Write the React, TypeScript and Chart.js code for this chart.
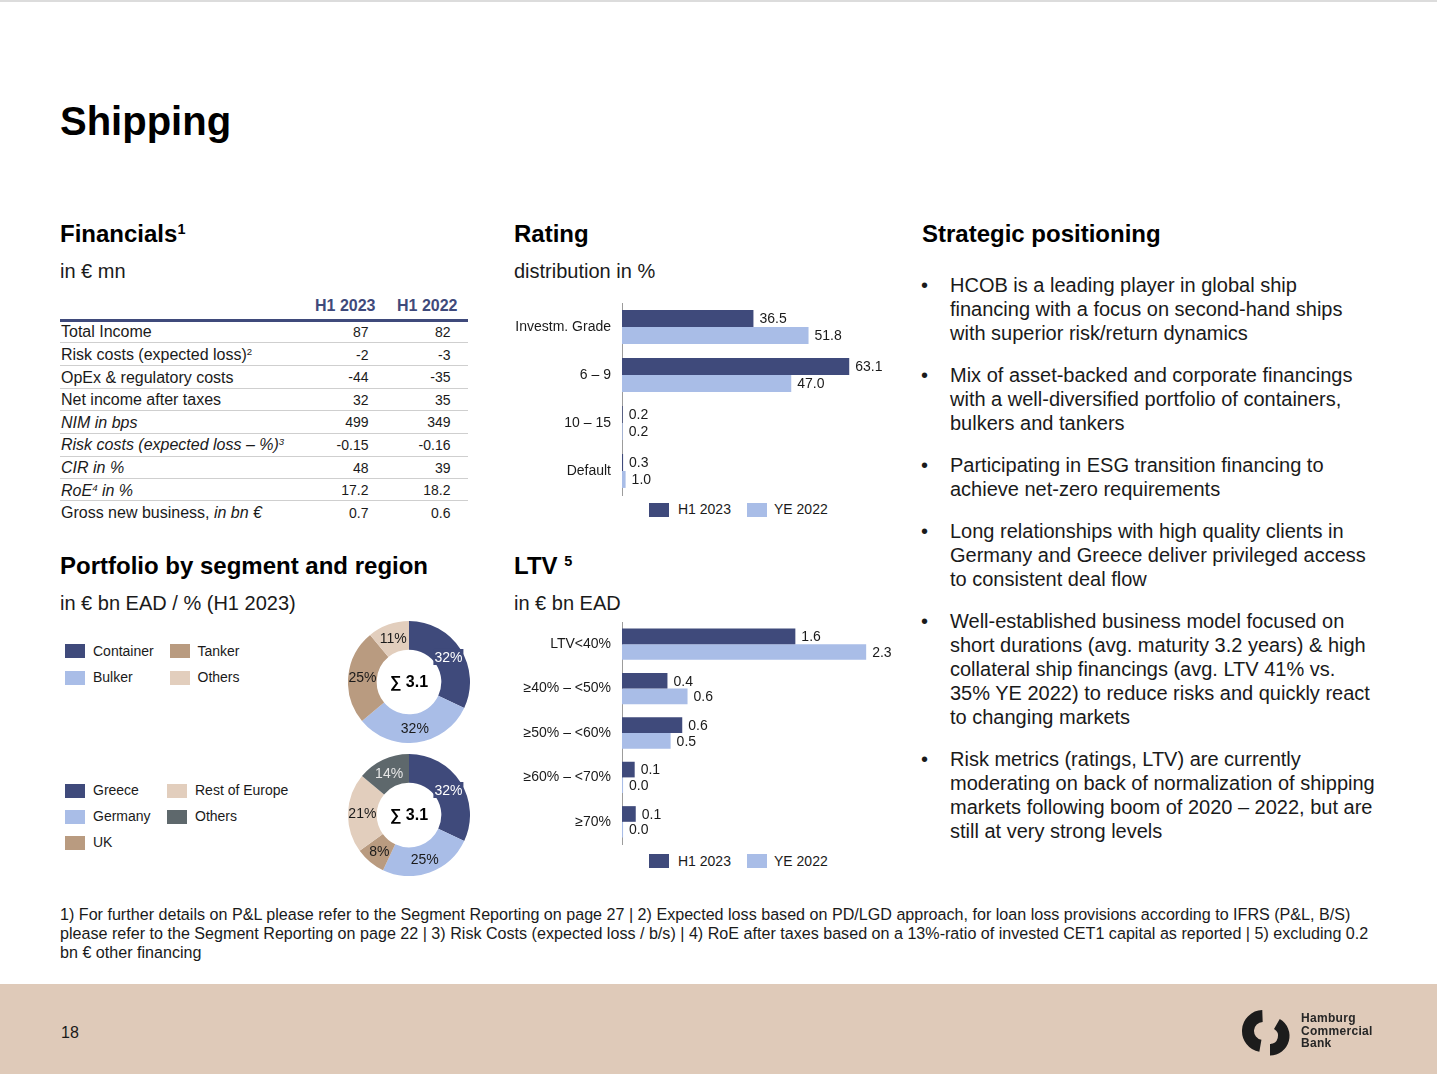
import React, { useEffect, useRef } from 'react';
import { Chart, registerables } from 'chart.js';

Chart.register(...registerables);

const FONT = 'Arial, "Liberation Sans", Helvetica, sans-serif';
const NAVY = '#3f4a7b';
const LIGHT_BLUE = '#a9bde7';
const TAN = '#b99b80';
const BEIGE = '#e2cebd';
const GRAY = '#5e686c';
const TEXT = '#1a1a1a';
const WHITE = '#ffffff';

// ---------- data ----------
const seriesLabels = ['H1 2023', 'YE 2022'];

const ratingCategories = ['Investm. Grade', '6 – 9', '10 – 15', 'Default'];
const ratingH1 = [36.5, 63.1, 0.2, 0.3];
const ratingYE = [51.8, 47.0, 0.2, 1.0];

const ltvCategories = ['LTV<40%', '≥40% – <50%', '≥50% – <60%', '≥60% – <70%', '≥70%'];
const ltvH1 = [1.64, 0.43, 0.57, 0.12, 0.13];
const ltvYE = [2.31, 0.62, 0.46, 0.01, 0.01];

const segmentLabels = ['Container', 'Bulker', 'Tanker', 'Others'];
const segmentValues = [32, 32, 25, 11];
const regionLabels = ['Greece', 'Germany', 'UK', 'Rest of Europe', 'Others'];
const regionValues = [32, 25, 8, 21, 14];
const portfolioTotal = 3.1;

const tableColumns = ['H1 2023', 'H1 2022'];
const tableH1_2023 = ['87', '-2', '-44', '32', '499', '-0.15', '48', '17.2', '0.7'];
const tableH1_2022 = ['82', '-3', '-35', '35', '349', '-0.16', '39', '18.2', '0.6'];

// ---------- plugins ----------
const valueLabelPlugin = {
  id: 'valueLabels',
  afterDatasetsDraw(chart: any, _args: any, opts: any) {
    const ctx = chart.ctx;
    ctx.save();
    ctx.font = `14px ${FONT}`;
    ctx.fillStyle = TEXT;
    ctx.textBaseline = 'middle';
    ctx.textAlign = 'left';
    chart.data.datasets.forEach((ds: any, i: number) => {
      const meta = chart.getDatasetMeta(i);
      meta.data.forEach((bar: any, j: number) => {
        const v = ds.data[j] as number;
        ctx.fillText(v.toFixed(opts.decimals ?? 1), bar.x + 6, bar.y + 1);
      });
    });
    ctx.restore();
  },
};

const donutLabelPlugin = {
  id: 'donutLabels',
  afterDatasetsDraw(chart: any, _args: any, opts: any) {
    const ctx = chart.ctx;
    const ds = chart.data.datasets[0];
    const meta = chart.getDatasetMeta(0);
    ctx.save();
    ctx.font = `14px ${FONT}`;
    ctx.textBaseline = 'middle';
    ctx.textAlign = 'center';
    let cx = 0;
    let cy = 0;
    meta.data.forEach((arc: any, i: number) => {
      const p = arc.getProps(['x', 'y', 'startAngle', 'endAngle', 'innerRadius', 'outerRadius'], true);
      cx = p.x;
      cy = p.y;
      const mid = (p.startAngle + p.endAngle) / 2;
      const r = (p.innerRadius + p.outerRadius) / 2;
      const x = p.x + Math.cos(mid) * r;
      const y = p.y + Math.sin(mid) * r;
      const txt = `${ds.data[i]}%`;
      const color = opts.labelColors[i];
      if (color === WHITE) {
        const w = ctx.measureText(txt).width;
        ctx.fillStyle = ds.backgroundColor[i];
        ctx.fillRect(x - w / 2 - 1, y - 8, w + 2, 16);
      }
      ctx.fillStyle = color;
      ctx.fillText(txt, x, y + 1);
    });
    ctx.font = `bold 16px ${FONT}`;
    ctx.fillStyle = '#000';
    ctx.fillText(`∑ ${opts.total.toFixed(1)}`, cx, cy + 1);
    ctx.restore();
  },
};

// ---------- chart components ----------
function HBar(props: {
  categories: string[];
  h1: number[];
  ye: number[];
  max: number;
  left: number;
  top: number;
  width: number;
  height: number;
  padTop: number;
  padBottom: number;
}) {
  const ref = useRef<HTMLCanvasElement>(null);
  useEffect(() => {
    const chart = new Chart(ref.current as HTMLCanvasElement, {
      type: 'bar',
      data: {
        labels: props.categories,
        datasets: [
          { label: seriesLabels[0], data: props.h1, backgroundColor: NAVY, categoryPercentage: 0.705, barPercentage: 1, borderWidth: 0 },
          { label: seriesLabels[1], data: props.ye, backgroundColor: LIGHT_BLUE, categoryPercentage: 0.705, barPercentage: 1, borderWidth: 0 },
        ],
      },
      options: {
        indexAxis: 'y',
        responsive: false,
        maintainAspectRatio: false,
        animation: false,
        layout: { padding: { top: props.padTop, bottom: props.padBottom, left: 0, right: 0 } },
        plugins: {
          legend: { display: false },
          tooltip: { enabled: false },
          valueLabels: { decimals: 1 },
        } as any,
        scales: {
          x: { display: false, min: 0, max: props.max },
          y: {
            grid: { display: false, drawTicks: false },
            border: { display: true, color: '#9c9c9c', width: 1 },
            ticks: { color: TEXT, font: { family: FONT, size: 14 }, padding: 11, autoSkip: false },
            afterFit: (s: any) => {
              s.width = 117;
              s.paddingTop = 0;
              s.paddingBottom = 0;
            },
          },
        },
      },
      plugins: [valueLabelPlugin],
    });
    return () => chart.destroy();
  }, []);
  return (
    <canvas
      ref={ref}
      width={props.width}
      height={props.height}
      style={{ position: 'absolute', left: props.left, top: props.top, width: props.width, height: props.height }}
    />
  );
}

function Donut(props: {
  labels: string[];
  values: number[];
  colors: string[];
  labelColors: string[];
  cx: number;
  cy: number;
  size: number;
}) {
  const ref = useRef<HTMLCanvasElement>(null);
  useEffect(() => {
    const chart = new Chart(ref.current as HTMLCanvasElement, {
      type: 'doughnut',
      data: {
        labels: props.labels,
        datasets: [{ data: props.values, backgroundColor: props.colors, borderWidth: 0 }],
      },
      options: {
        responsive: false,
        maintainAspectRatio: false,
        animation: false,
        cutout: '53%',
        layout: { padding: 0 },
        plugins: {
          legend: { display: false },
          tooltip: { enabled: false },
          donutLabels: { labelColors: props.labelColors, total: portfolioTotal },
        } as any,
      },
      plugins: [donutLabelPlugin],
    });
    return () => chart.destroy();
  }, []);
  const s = props.size;
  return (
    <canvas
      ref={ref}
      width={s}
      height={s}
      style={{ position: 'absolute', left: props.cx - s / 2, top: props.cy - s / 2, width: s, height: s }}
    />
  );
}

// ---------- text helpers ----------
function T(props: {
  x: number;
  y: number;
  size?: number;
  bold?: boolean;
  italic?: boolean;
  right?: boolean;
  color?: string;
  children: React.ReactNode;
}) {
  const size = props.size ?? 16;
  const style: React.CSSProperties = {
    position: 'absolute',
    top: props.y - size * 0.6,
    fontSize: size,
    lineHeight: `${size * 1.2}px`,
    fontWeight: props.bold ? 700 : 400,
    fontStyle: props.italic ? 'italic' : 'normal',
    whiteSpace: 'nowrap',
    color: props.color ?? TEXT,
  };
  if (props.right) {
    style.right = 1437 - props.x;
    style.textAlign = 'right';
  } else {
    style.left = props.x;
  }
  return <div style={style}>{props.children}</div>;
}

const Sup = ({ children }: { children: React.ReactNode }) => (
  <span style={{ fontSize: '0.6em', position: 'relative', top: '-0.55em' }}>{children}</span>
);

function Swatch({ x, y, color }: { x: number; y: number; color: string }) {
  return <div style={{ position: 'absolute', left: x, top: y, width: 20, height: 14, background: color }} />;
}

function LegendRow({ y }: { y: number }) {
  return (
    <>
      <Swatch x={649} y={y - 7} color={NAVY} />
      <T x={678} y={y} size={14}>{seriesLabels[0]}</T>
      <Swatch x={747} y={y - 7} color={LIGHT_BLUE} />
      <T x={774} y={y} size={14}>{seriesLabels[1]}</T>
    </>
  );
}

function ringPath(cx: number, cy: number, R: number, r: number, a0: number, a1: number) {
  const rad = (a: number) => (a * Math.PI) / 180;
  const p = (rr: number, a: number) => `${cx + rr * Math.cos(rad(a))} ${cy + rr * Math.sin(rad(a))}`;
  const large = a1 - a0 > 180 ? 1 : 0;
  return `M ${p(R, a0)} A ${R} ${R} 0 ${large} 1 ${p(R, a1)} L ${p(r, a1)} A ${r} ${r} 0 ${large} 0 ${p(r, a0)} Z`;
}

const tableLabels: React.ReactNode[] = [
  'Total Income',
  <>Risk costs (expected loss)<Sup>2</Sup></>,
  'OpEx & regulatory costs',
  'Net income after taxes',
  <i>NIM in bps</i>,
  <i>Risk costs (expected loss – %)<Sup>3</Sup></i>,
  <i>CIR in %</i>,
  <i>RoE<Sup>4</Sup> in %</i>,
  <>Gross new business, <i>in bn €</i></>,
];
const rowCenters = [332, 355, 377.5, 400, 422.5, 445, 468, 490.5, 513];
const rowLines = [342.7, 365.3, 388, 410.3, 433.3, 456, 478.3, 500.7];

const bullets: string[][] = [
  ['HCOB is a leading player in global ship', 'financing with a focus on second-hand ships', 'with superior risk/return dynamics'],
  ['Mix of asset-backed and corporate financings', 'with a well-diversified portfolio of containers,', 'bulkers and tankers'],
  ['Participating in ESG transition financing to', 'achieve net-zero requirements'],
  ['Long relationships with high quality clients in', 'Germany and Greece deliver privileged access', 'to consistent deal flow'],
  [
    'Well-established business model focused on',
    'short durations (avg. maturity 3.2 years) & high',
    'collateral ship financings (avg. LTV 41% vs.',
    '35% YE 2022) to reduce risks and quickly react',
    'to changing markets',
  ],
  [
    'Risk metrics (ratings, LTV) are currently',
    'moderating on back of normalization of shipping',
    'markets following boom of 2020 – 2022, but are',
    'still at very strong levels',
  ],
];
const bulletTops = [285, 375, 465, 531, 621, 759];

const footnotes = [
  '1) For further details on P&L please refer to the Segment Reporting on page 27 | 2) Expected loss based on PD/LGD approach, for loan loss provisions according to IFRS (P&L, B/S)',
  'please refer to the Segment Reporting on page 22 | 3) Risk Costs (expected loss / b/s) | 4) RoE after taxes based on a 13%-ratio of invested CET1 capital as reported | 5) excluding 0.2',
  'bn € other financing',
];

export default function App() {
  return (
    <div
      style={{
        position: 'absolute',
        left: 0,
        top: 0,
        width: 1437,
        height: 1074,
        overflow: 'hidden',
        background: '#fff',
        fontFamily: FONT,
        color: TEXT,
      }}
    >
      <div style={{ position: 'absolute', left: 0, top: 0, width: 1437, height: 2, background: '#dcdcdc' }} />

      <T x={60} y={121} size={40} bold color="#000">Shipping</T>

      {/* Financials */}
      <T x={60} y={234} size={24} bold color="#000">Financials<Sup>1</Sup></T>
      <T x={60} y={271} size={20}>in € mn</T>
      <T x={375.5} y={306} size={16} bold right color={NAVY}>{tableColumns[0]}</T>
      <T x={457.5} y={306} size={16} bold right color={NAVY}>{tableColumns[1]}</T>
      <div style={{ position: 'absolute', left: 60, top: 318.5, width: 408, height: 3, background: NAVY }} />
      {rowLines.map((ly, i) => (
        <div key={i} style={{ position: 'absolute', left: 60, top: ly - 0.5, width: 408, height: 1, background: '#cfcfcf' }} />
      ))}
      {tableLabels.map((lab, i) => (
        <React.Fragment key={i}>
          <T x={61} y={rowCenters[i]} size={16}>{lab}</T>
          <T x={368.5} y={rowCenters[i]} size={14} right>{tableH1_2023[i]}</T>
          <T x={450.5} y={rowCenters[i]} size={14} right>{tableH1_2022[i]}</T>
        </React.Fragment>
      ))}

      {/* Rating */}
      <T x={514} y={234} size={24} bold color="#000">Rating</T>
      <T x={514} y={271} size={20}>distribution in %</T>
      <HBar
        categories={ratingCategories}
        h1={ratingH1}
        ye={ratingYE}
        max={77.2}
        left={505}
        top={300}
        width={395}
        height={200}
        padTop={3}
        padBottom={5}
      />
      <LegendRow y={509.5} />

      {/* Portfolio */}
      <T x={60} y={566} size={24} bold color="#000">Portfolio by segment and region</T>
      <T x={60} y={603} size={20}>in € bn EAD / % (H1 2023)</T>
      <Swatch x={65} y={644} color={NAVY} />
      <T x={93} y={651.5} size={14}>{segmentLabels[0]}</T>
      <Swatch x={170} y={644} color={TAN} />
      <T x={197.5} y={651.5} size={14}>{segmentLabels[2]}</T>
      <Swatch x={65} y={670.5} color={LIGHT_BLUE} />
      <T x={93} y={677.5} size={14}>{segmentLabels[1]}</T>
      <Swatch x={170} y={670.5} color={BEIGE} />
      <T x={197.5} y={677.5} size={14}>{segmentLabels[3]}</T>

      <Swatch x={65} y={783.5} color={NAVY} />
      <T x={93} y={790.5} size={14}>{regionLabels[0]}</T>
      <Swatch x={167} y={783.5} color={BEIGE} />
      <T x={195} y={790.5} size={14}>{regionLabels[3]}</T>
      <Swatch x={65} y={809.5} color={LIGHT_BLUE} />
      <T x={93} y={816.5} size={14}>{regionLabels[1]}</T>
      <Swatch x={167} y={809.5} color={GRAY} />
      <T x={195} y={816.5} size={14}>{regionLabels[4]}</T>
      <Swatch x={65} y={835.5} color={TAN} />
      <T x={93} y={842.5} size={14}>{regionLabels[2]}</T>

      <Donut
        labels={segmentLabels}
        values={segmentValues}
        colors={[NAVY, LIGHT_BLUE, TAN, BEIGE]}
        labelColors={[WHITE, TEXT, TEXT, TEXT]}
        cx={409}
        cy={682}
        size={122}
      />
      <Donut
        labels={regionLabels}
        values={regionValues}
        colors={[NAVY, LIGHT_BLUE, TAN, BEIGE, GRAY]}
        labelColors={[WHITE, TEXT, TEXT, TEXT, '#e6e6e6']}
        cx={409}
        cy={815}
        size={122}
      />

      {/* LTV */}
      <T x={514} y={566} size={24} bold color="#000">LTV <Sup>5</Sup></T>
      <T x={514} y={603} size={20}>in € bn EAD</T>
      <HBar
        categories={ltvCategories}
        h1={ltvH1}
        ye={ltvYE}
        max={2.63}
        left={505}
        top={618}
        width={395}
        height={230}
        padTop={4}
        padBottom={4}
      />
      <LegendRow y={861} />

      {/* Strategic positioning */}
      <T x={922} y={234} size={24} bold color="#000">Strategic positioning</T>
      {bullets.map((lines, i) => (
        <React.Fragment key={i}>
          <div style={{ position: 'absolute', left: 921, top: bulletTops[i] - 12, fontSize: 20, lineHeight: '24px' }}>•</div>
          <div
            style={{
              position: 'absolute',
              left: 950,
              top: bulletTops[i] - 12,
              fontSize: 20,
              lineHeight: '24px',
              whiteSpace: 'nowrap',
            }}
          >
            {lines.map((l, j) => (
              <div key={j}>{l}</div>
            ))}
          </div>
        </React.Fragment>
      ))}

      {/* Footnotes */}
      <div style={{ position: 'absolute', left: 60, top: 914 - 9.5, fontSize: 16.12, lineHeight: '19px', whiteSpace: 'nowrap' }}>
        {footnotes.map((l, i) => (
          <div key={i}>{l}</div>
        ))}
      </div>

      {/* Footer */}
      <div style={{ position: 'absolute', left: 0, top: 984, width: 1437, height: 90, background: '#dfcab9' }} />
      <T x={61} y={1033} size={16}>18</T>
      <svg style={{ position: 'absolute', left: 0, top: 0 }} width={1437} height={1074} pointerEvents="none">
        <path d={ringPath(1263, 1031, 21, 9, 100, 268)} fill="#1c1c1c" />
        <path d={ringPath(1270, 1036, 19.5, 8, 300, 450)} fill="#1c1c1c" />
      </svg>
      <div
        style={{
          position: 'absolute',
          left: 1301,
          top: 1012,
          fontSize: 12,
          lineHeight: '12.5px',
          fontWeight: 700,
          color: '#262626',
          letterSpacing: 0.3,
        }}
      >
        <div>Hamburg</div>
        <div>Commercial</div>
        <div>Bank</div>
      </div>
    </div>
  );
}
